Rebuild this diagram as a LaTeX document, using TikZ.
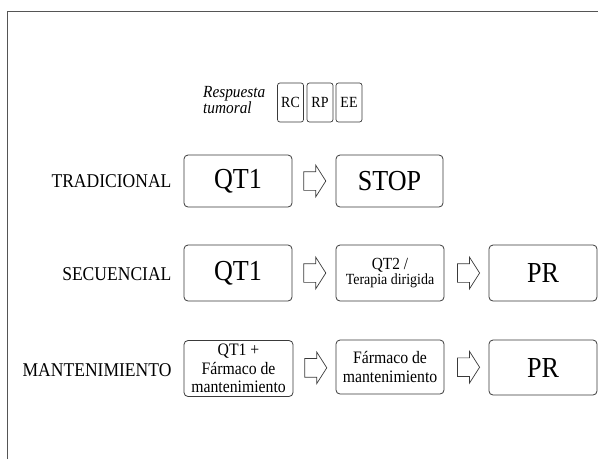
\documentclass[tikz,border=0pt]{standalone}
\usepackage{fontspec}
\setmainfont{Liberation Serif}[FakeStretch=0.9]
\usepackage{xcolor}
\usetikzlibrary{shapes.arrows,calc}

\definecolor{boxline}{HTML}{3A3A3A}
\definecolor{frameline}{HTML}{555555}

\begin{document}
\begin{tikzpicture}[x=1pt, y=-1pt,
    etapa/.style={draw=boxline, line width=0.8pt, rounded corners=4pt, align=center, inner sep=0pt},
    grande/.style={etapa, font=\fontsize{29}{32}\selectfont},
    chica/.style={etapa, font=\fontsize{17.5}{18.5}\selectfont},
    resp/.style={draw=boxline, line width=0.7pt, rounded corners=2.5pt, minimum width=26pt, minimum height=39pt, inner sep=0pt, font=\fontsize{15.5}{17}\selectfont},
    esquema/.style={anchor=east, font=\fontsize{19.5}{22}\selectfont},
    flecha/.style={single arrow, draw=boxline, line width=0.7pt, inner xsep=0pt, inner ysep=9pt,
      minimum height=22pt, single arrow head extend=6.5pt, single arrow tip angle=115}]
      \useasboundingbox (0,0) rectangle (598,459);

      \draw[frameline, line width=1.5pt] (7.5,459) -- (7.5,11.5) -- (598,11.5);

      \node[anchor=west, align=left, font=\itshape\fontsize{17}{14.5}\selectfont, inner sep=0pt] (tumor) at (203,100) {Respuesta\\tumoral};
      \node[resp] (rc) at (290.5,102.5) {RC};
      \node[resp] (rp) at (320,102.5) {RP};
      \node[resp] (ee) at (349,102.5) {EE};

      \node[esquema] (trad) at (175,181) {TRADICIONAL};
      \node[grande, minimum width=108pt, minimum height=52pt] (qta) at (238,181) {QT1};
      \node[grande, minimum width=107pt, minimum height=52pt] (stop) at (389.5,181) {STOP};
      \node[flecha] (fa) at ($(qta.east)!0.45!(stop.west)$) {};

      \node[esquema] (sec) at (175,274) {SECUENCIAL};
      \node[grande, minimum width=108pt, minimum height=56pt] (qtb) at (238,273) {QT1};
      \node[etapa, minimum width=108pt, minimum height=56pt] (qtdos) at (390,273)
        {{\fontsize{17}{19}\selectfont QT2 /}\\[1pt]{\fontsize{15.5}{17}\selectfont Terapia dirigida}};
      \node[grande, minimum width=108pt, minimum height=56pt] (prb) at (543,273) {PR};
      \node[flecha] (fb) at ($(qtb.east)!0.45!(qtdos.west)$) {};
      \node[flecha] (fc) at ($(qtdos.east)!0.48!(prb.west)$) {};

      \node[esquema] (mant) at (175,370) {MANTENIMIENTO};
      \node[chica, minimum width=109pt, minimum height=56pt] (qtc) at (238.5,368.5) {QT1 +\\Fármaco de\\mantenimiento};
      \node[chica, minimum width=108pt, minimum height=54pt] (farm) at (390,367) {Fármaco de\\mantenimiento};
      \node[grande, minimum width=108pt, minimum height=55pt] (prc) at (543,367.5) {PR};
      \node[flecha] (fd) at ($(qtc.east)!0.46!(farm.west)$) {};
      \node[flecha] (fe) at ($(farm.east)!0.48!(prc.west)$) {};
\end{tikzpicture}
\end{document}
